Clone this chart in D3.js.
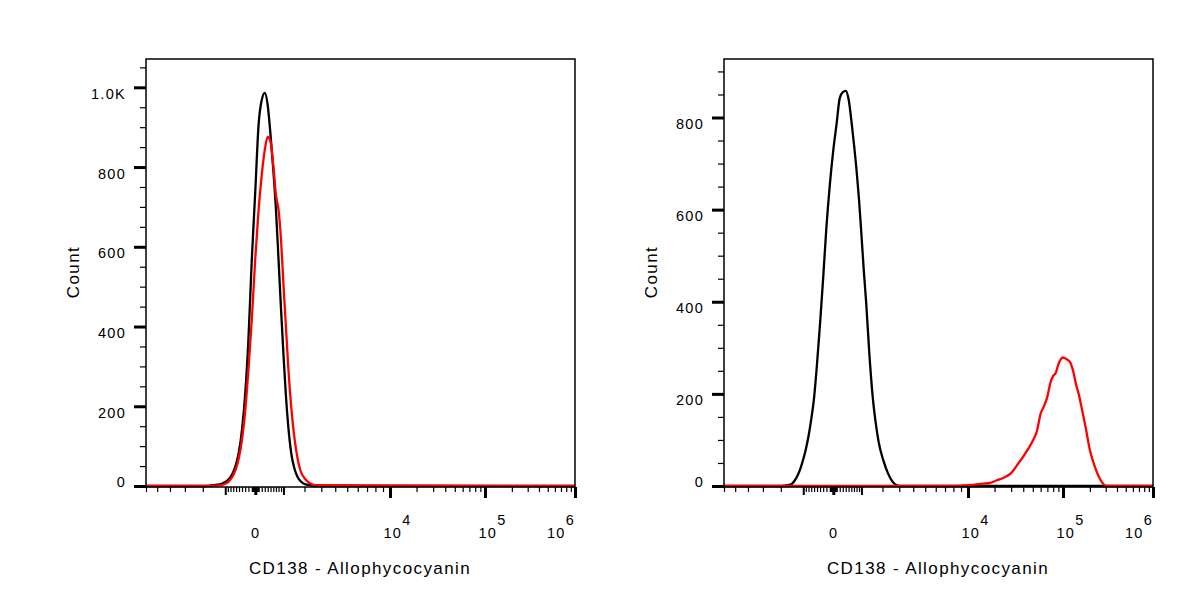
<!DOCTYPE html>
<html>
<head>
<meta charset="utf-8">
<script src="https://cdnjs.cloudflare.com/ajax/libs/d3/7.8.5/d3.min.js"></script>
<style>
  body { margin: 0; background: #fff; }
  text { font-family: "Liberation Sans", Arial, sans-serif; fill: #000; }
</style>
</head>
<body>
<svg id="chart" width="1200" height="600"></svg>
<script>
// histogram bins (CD138 - APC intensity) and event counts
var leftX = [-6000, -1900, -1650, -1400, -1250, -1100, -1000, -900, -800, -700, -600, -500, -400, -300, -200, -100,
  0, 100, 200, 300, 400, 500, 600, 700, 800, 900, 1000, 1100, 1200, 1350, 1500, 1650, 1800, 2050, 2300, 2600, 1000000];
var leftBlack = [0, 0, 1, 3, 4, 7, 10, 15, 22, 35, 55, 87, 142, 230, 367, 568,
  740, 906, 968, 986, 955, 880, 793, 693, 568, 443, 330, 230, 154, 79, 42, 22, 12, 4, 2, 0, 0];
var leftRed = [0, 0, 0, 1, 2, 3, 6, 9, 17, 27, 44, 72, 117, 187, 292, 417,
  572, 692, 780, 843, 876, 863, 805, 730, 693, 617, 505, 405, 305, 192, 117, 67, 37, 17, 7, 2, 0];

var rightBlackX = [-6000, -2300, -2050, -1800, -1650, -1500, -1350, -1200, -1100, -1000, -900, -800, -700, -600, -500, -400, -300, -200, -100,
  0, 100, 200, 300, 400, 500, 600, 700, 800, 900, 1000, 1100, 1200, 1350, 1500, 1650, 1800, 2050, 2300, 2600, 2900, 3200, 1000000];
var rightBlack = [0, 0, 0, 1, 2, 4, 12, 26, 40, 58, 80, 108, 145, 192, 265, 352, 452, 562, 653,
  729, 786, 842, 855, 858, 840, 795, 742, 686, 621, 545, 467, 400, 284, 195, 137, 95, 55, 28, 8, 1, 0, 0];

var rightRedX = [-6000, 7000, 10000, 12000, 15000, 18000, 21000, 25000, 30000, 35000, 40000, 45000, 50000, 55000, 60000,
  65000, 70000, 75000, 80000, 85000, 90000, 95000, 100000, 110000, 120000, 130000, 140000, 150000, 165000, 180000,
  200000, 220000, 250000, 300000, 350000, 1000000];
var rightRed = [0, 0, 2, 3, 5, 7, 12, 18, 28, 47, 64, 81, 98, 119, 157,
  174, 194, 224, 239, 246, 264, 275, 279, 275, 269, 250, 221, 200, 162, 126,
  78, 50, 21, 1, 0, 0];

var yMaxLeft = 1071, yMaxRight = 927;
var yMajorLeft = [0, 200, 400, 600, 800, 1000];
var yLabelsLeft = ["0", "200", "400", "600", "800", "1.0K"];
var yMajorRight = [0, 200, 400, 600, 800];
var yLabelsRight = ["0", "200", "400", "600", "800"];

var xMajor = [0, 10000, 100000, 1000000];
var xMajorExp = [null, 4, 5, 6];
var xMid = [-1000, 1000];

var xTitle = "CD138 - Allophycocyanin";
var yTitle = "Count";

// minor ticks of the biexponential axis
var xMinor = [-6000, -5000, -4000, -3000, -2000];
[10, 100].forEach(function(s) {
  for (var k = 1; k < 10; k++) { xMinor.push(k * s, -k * s); }
});
[1000, 10000, 100000].forEach(function(s) {
  for (var k = 2; k < 10; k++) { xMinor.push(k * s); }
});

var svg = d3.select("#chart");
svg.append("rect").attr("width", 1200).attr("height", 600).attr("fill", "#fff");

var plotTop = 59, plotBottom = 486, plotW = 429;

function drawPanel(x0, yMax, yMajor, yLabels, series) {
  var g = svg.append("g");

  var x = d3.scaleSymlog().constant(2500)
    .domain([-6000, 0, 10000, 100000, 1000000])
    .range([x0, x0 + 109.3, x0 + 244, x0 + 339, x0 + plotW]);
  var y = d3.scaleLinear().domain([0, yMax]).range([plotBottom, plotTop]);

  // y axis: minor every 50, major every 200
  var yMinorAxis = g.append("g").attr("transform", "translate(" + x0 + ",0)")
    .call(d3.axisLeft(y).tickValues(d3.range(0, yMax, 50)).tickSize(6).tickFormat(""));
  yMinorAxis.select(".domain").remove();
  yMinorAxis.selectAll("line").attr("stroke", "#000").attr("stroke-width", 1.2);

  var yMajorAxis = g.append("g").attr("transform", "translate(" + x0 + ",0)")
    .call(d3.axisLeft(y).tickValues(yMajor).tickSize(12).tickPadding(8)
      .tickFormat(function(d, i) { return yLabels[i]; }));
  yMajorAxis.select(".domain").remove();
  yMajorAxis.selectAll("line").attr("stroke", "#000").attr("stroke-width", 3);
  yMajorAxis.selectAll("text")
    .attr("fill", "#000")
    .attr("font-family", null)
    .style("font-size", "14.5px")
    .style("letter-spacing", "1.3px")
    .attr("dy", function(d) { return d === 0 ? "0px" : "11px"; });

  // x axis ticks
  function xTicks(vals, size, w) {
    var a = g.append("g").attr("transform", "translate(0," + (plotBottom + 1) + ")")
      .call(d3.axisBottom(x).tickValues(vals).tickSize(size).tickFormat(""));
    a.select(".domain").remove();
    a.selectAll("line").attr("stroke", "#000").attr("stroke-width", w);
  }
  xTicks(xMinor, 5, 1.2);
  xTicks(xMid, 8, 2);
  xTicks([0], 8, 3);
  xTicks(xMajor.slice(1), 11, 3);

  // x tick labels
  g.selectAll(".xlab").data(xMajor).enter().append("text")
    .attr("class", "xlab")
    .attr("x", function(d, i) {
      if (i === 0) return x(d) + 0.5;
      if (i === xMajor.length - 1) return x(d);
      return x(d) - 6.5;
    })
    .attr("y", 538)
    .attr("text-anchor", function(d, i) { return i === 0 ? "middle" : (i === xMajor.length - 1 ? "end" : "start"); })
    .style("font-size", "14.5px")
    .style("letter-spacing", "1.3px")
    .each(function(d, i) {
      var t = d3.select(this);
      if (xMajorExp[i] === null) { t.text("0"); return; }
      t.append("tspan").text("10");
      t.append("tspan").attr("dy", -13).text(xMajorExp[i]);
    });

  // histogram curves
  var line = d3.line()
    .x(function(d) { return x(d[0]); })
    .y(function(d) { return y(d[1]); })
    .curve(d3.curveMonotoneX);

  series.forEach(function(s) {
    g.append("path")
      .datum(d3.zip(s.x, s.v))
      .attr("fill", "none")
      .attr("stroke", s.color)
      .attr("stroke-width", 2.3)
      .attr("stroke-linejoin", "round")
      .attr("d", line);
  });

  // frame
  g.append("rect")
    .attr("x", x0).attr("y", plotTop)
    .attr("width", plotW).attr("height", plotBottom + 1 - plotTop)
    .attr("fill", "none").attr("stroke", "#000").attr("stroke-width", 1.5);

  // titles
  g.append("text")
    .attr("x", x0 + 214).attr("y", 574)
    .attr("text-anchor", "middle")
    .style("font-size", "17px")
    .style("letter-spacing", "1.4px")
    .text(xTitle);

  g.append("text")
    .attr("transform", "translate(" + (x0 - 67) + ",272) rotate(-90)")
    .attr("text-anchor", "middle")
    .style("font-size", "17px")
    .style("letter-spacing", "1.4px")
    .text(yTitle);
}

drawPanel(146, yMaxLeft, yMajorLeft, yLabelsLeft, [
  { x: leftX, v: leftBlack, color: "#000" },
  { x: leftX, v: leftRed, color: "#ff0000" }
]);

drawPanel(724, yMaxRight, yMajorRight, yLabelsRight, [
  { x: rightBlackX, v: rightBlack, color: "#000" },
  { x: rightRedX, v: rightRed, color: "#ff0000" }
]);
</script>
</body>
</html>
